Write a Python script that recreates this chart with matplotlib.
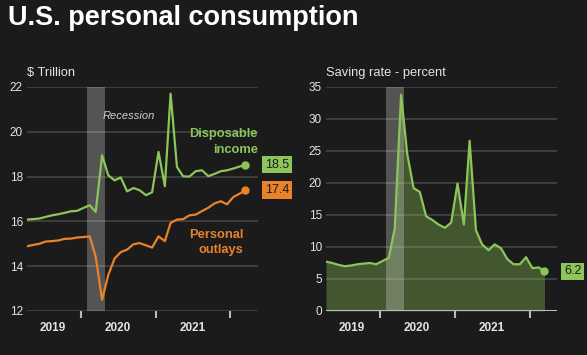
"""U.S. personal consumption - two panel dark chart"""
import matplotlib
matplotlib.use("Agg")
import matplotlib.pyplot as plt
import matplotlib.dates as mdates
import pandas as pd

plt.rcParams["font.family"] = ["Liberation Sans", "DejaVu Sans"]

# monthly data, Apr 2019 - Mar 2022
months = pd.date_range("2019-04-01", "2022-03-01", freq="MS") + pd.Timedelta(days=14)

disposable_income = [16.08, 16.10, 16.13, 16.20, 16.27, 16.32, 16.38, 16.45, 16.47, 16.60, 16.72, 16.42,
                     18.95, 18.06, 17.83, 17.96, 17.34, 17.49, 17.39, 17.17, 17.30,
                     19.10, 17.57, 21.70, 18.43, 18.01, 18.00, 18.24, 18.28, 18.02, 18.12, 18.24, 18.28,
                     18.36, 18.45, 18.53]
personal_outlays = [14.89, 14.95, 15.00, 15.10, 15.12, 15.15, 15.22, 15.23, 15.28, 15.30, 15.33, 14.41,
                    12.50, 13.60, 14.34, 14.63, 14.74, 14.98, 15.03, 14.93, 14.83,
                    15.33, 15.12, 15.93, 16.08, 16.10, 16.27, 16.30, 16.46, 16.61, 16.80, 16.90, 16.76,
                    17.09, 17.24, 17.39]
saving_rate = [7.7, 7.5, 7.2, 7.0, 7.1, 7.3, 7.4, 7.5, 7.3, 7.8, 8.3, 12.9,
               33.8, 24.5, 19.2, 18.6, 14.8, 14.2, 13.5, 13.0, 13.8,
               19.9, 13.5, 26.6, 12.6, 10.4, 9.5, 10.4, 9.8, 8.1, 7.3, 7.3, 8.4,
               6.7, 6.8, 6.2]

recession = ("2020-02-01", "2020-04-30")
year_ticks = ["2020-01-01", "2021-01-01", "2022-01-01"]
year_label_pos = ["2019-08-20", "2020-07-01", "2021-07-01"]
year_labels = ["2019", "2020", "2021"]

BG = "#1b1b1b"
GREEN = "#8cc65a"
ORANGE = "#e8832a"
GRID = "#414141"
TXT = "#e4e4e4"

fig = plt.figure(figsize=(5.87, 3.55), dpi=100, facecolor=BG)
ax1 = fig.add_axes([0.046, 0.124, 0.3935, 0.631])
ax2 = fig.add_axes([0.5554, 0.124, 0.3935, 0.631])

xmin = pd.Timestamp("2019-04-15")
xmax = pd.Timestamp("2022-05-15")


def style_axis(ax, yticks):
    """Common dark styling"""
    ax.set_facecolor(BG)
    for s in ax.spines.values():
        s.set_visible(False)
    ax.set_xlim(xmin, xmax)
    ax.set_yticks(yticks)
    ax.yaxis.grid(True, color=GRID, linewidth=1.3)
    ax.set_axisbelow(True)
    ax.tick_params(axis="y", length=0, pad=3, labelsize=8.5, labelcolor=TXT)
    ax.set_xticks(pd.to_datetime(year_ticks))
    ax.set_xticklabels([])
    ax.tick_params(axis="x", which="major", length=5, width=1.5, color="#bbbbbb")
    ax.set_xticks(pd.to_datetime(year_label_pos), minor=True)
    ax.set_xticklabels(year_labels, minor=True, fontsize=8.5, fontweight="bold", color=TXT)
    ax.tick_params(axis="x", which="minor", length=0, pad=8)
    ax.axvspan(pd.Timestamp(recession[0]), pd.Timestamp(recession[1]),
               color="white", alpha=0.25, lw=0, zorder=3)


def value_box(ax, val, color):
    """Last-value label outside the plot"""
    ax.annotate(f"{val:.1f}", xy=(1, val), xycoords=("axes fraction", "data"),
                xytext=(5, 0), textcoords="offset points", ha="left", va="center",
                fontsize=9, color="#1b1b1b",
                bbox=dict(boxstyle="square,pad=0.22", fc=color, ec="none"),
                annotation_clip=False)


# left panel
style_axis(ax1, range(12, 23, 2))
ax1.set_ylim(12, 22)
ax1.plot(months, disposable_income, color=GREEN, lw=1.6, zorder=4)
ax1.plot(months, personal_outlays, color=ORANGE, lw=1.6, zorder=4)
ax1.plot(months[-1], disposable_income[-1], "o", color=GREEN, ms=5, zorder=5)
ax1.plot(months[-1], personal_outlays[-1], "o", color=ORANGE, ms=5, zorder=5)
value_box(ax1, disposable_income[-1], GREEN)
value_box(ax1, personal_outlays[-1], ORANGE)
ax1.text(pd.Timestamp("2020-04-20"), 20.7, "Recession", style="italic",
         fontsize=8, color="#d0d0d0", va="center", ha="left")
ax1.text(1.0, 19.55, "Disposable\nincome", transform=ax1.get_yaxis_transform(),
         ha="right", va="center", fontsize=9.3, fontweight="bold", color=GREEN,
         linespacing=1.4, multialignment="right")
ax1.text(pd.Timestamp("2022-03-05"), 15.05, "Personal\noutlays",
         ha="right", va="center", fontsize=9.3, fontweight="bold", color=ORANGE,
         linespacing=1.4, multialignment="right")

# right panel
style_axis(ax2, range(0, 36, 5))
ax2.set_ylim(0, 35)
ax2.fill_between(months, saving_rate, 0, color=GREEN, alpha=0.35, lw=0, zorder=2)
ax2.plot(months, saving_rate, color=GREEN, lw=1.6, zorder=4)
ax2.plot(months[-1], saving_rate[-1], "o", color=GREEN, ms=5, zorder=5)
ax2.axhline(0, color="#bbbbbb", lw=1.5, zorder=4)
value_box(ax2, saving_rate[-1], GREEN)

fig.text(0.0136, 0.949, "U.S. personal consumption", fontsize=19.5,
         fontweight="bold", color="white", va="center", ha="left")
fig.text(27 / 587, 1 - 73 / 355, "$ Trillion", fontsize=9.3, color=TXT, va="center")
fig.text(326 / 587, 1 - 73 / 355, "Saving rate - percent", fontsize=9.3, color=TXT, va="center")

fig.savefig("out.png", dpi=100, facecolor=BG)
